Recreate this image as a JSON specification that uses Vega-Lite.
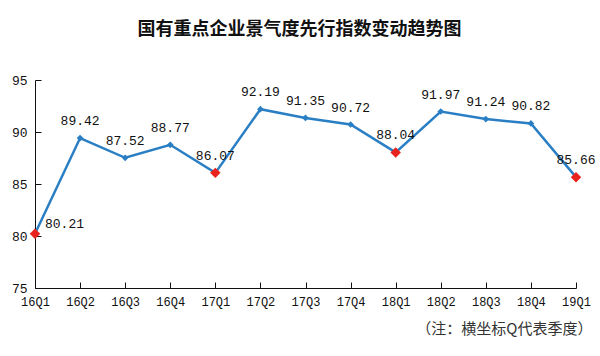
{
  "$schema": "https://vega.github.io/schema/vega-lite/v6.json",
  "width": 541,
  "height": 208,
  "autosize": {"type": "none"},
  "padding": {"left": 35, "top": 80, "right": 24, "bottom": 68},
  "background": "white",
  "title": {
    "text": "国有重点企业景气度先行指数变动趋势图",
    "font": "Noto Sans CJK SC",
    "fontSize": 18,
    "fontWeight": "bold",
    "color": "#111111",
    "anchor": "middle",
    "frame": "group",
    "dx": -6,
    "offset": 35
  },
  "data": {
    "values": [
      {"q": "16Q1", "v": 80.21},
      {"q": "16Q2", "v": 89.42},
      {"q": "16Q3", "v": 87.52},
      {"q": "16Q4", "v": 88.77},
      {"q": "17Q1", "v": 86.07},
      {"q": "17Q2", "v": 92.19},
      {"q": "17Q3", "v": 91.35},
      {"q": "17Q4", "v": 90.72},
      {"q": "18Q1", "v": 88.04},
      {"q": "18Q2", "v": 91.97},
      {"q": "18Q3", "v": 91.24},
      {"q": "18Q4", "v": 90.82},
      {"q": "19Q1", "v": 85.66}
    ]
  },
  "encoding": {
    "x": {
      "field": "q",
      "type": "ordinal",
      "sort": null,
      "scale": {"type": "point", "padding": 0},
      "axis": {
        "title": "（注：横坐标Q代表季度）",
        "titleFont": "Noto Sans CJK SC",
        "titleFontSize": 15,
        "titleFontWeight": "normal",
        "titleColor": "#333333",
        "titleAnchor": "end",
        "titleAlign": "right",
        "titleX": 557,
        "titlePadding": 14,
        "labelAngle": 0,
        "labelFont": "Liberation Mono",
        "labelFontSize": 12,
        "labelColor": "#111111",
        "labelPadding": 14,
        "domainColor": "#111111",
        "tickColor": "#111111",
        "tickSize": -6,
        "grid": false
      }
    },
    "y": {
      "field": "v",
      "type": "quantitative",
      "scale": {"domain": [75, 95], "nice": false, "zero": false},
      "axis": {
        "title": null,
        "values": [75, 80, 85, 90, 95],
        "labelFont": "Liberation Mono",
        "labelFontSize": 13,
        "labelColor": "#111111",
        "labelPadding": 14,
        "domainColor": "#111111",
        "tickColor": "#111111",
        "tickSize": -6,
        "grid": false
      }
    }
  },
  "config": {"view": {"stroke": null}},
  "layer": [
    {"mark": {"type": "line", "color": "#2a7fc4", "strokeWidth": 2.5}},
    {
      "mark": {"type": "point", "shape": "diamond", "filled": true, "opacity": 1},
      "encoding": {
        "color": {
          "condition": {"test": "indexof(datum.q, 'Q1') >= 0", "value": "#e8231e"},
          "value": "#2a7fc4"
        },
        "size": {
          "condition": {"test": "indexof(datum.q, 'Q1') >= 0", "value": 110},
          "value": 45
        }
      }
    },
    {
      "transform": [{"filter": "datum.q != '16Q1'"}],
      "mark": {"type": "text", "font": "Liberation Mono", "fontSize": 13, "color": "#111111", "dy": -10, "baseline": "bottom"},
      "encoding": {"text": {"field": "v", "type": "quantitative", "format": ".2f"}}
    },
    {
      "transform": [{"filter": "datum.q == '16Q1'"}],
      "mark": {"type": "text", "font": "Liberation Mono", "fontSize": 13, "color": "#111111", "dx": 10, "dy": -10, "align": "left"},
      "encoding": {"text": {"field": "v", "type": "quantitative", "format": ".2f"}}
    }
  ]
}
